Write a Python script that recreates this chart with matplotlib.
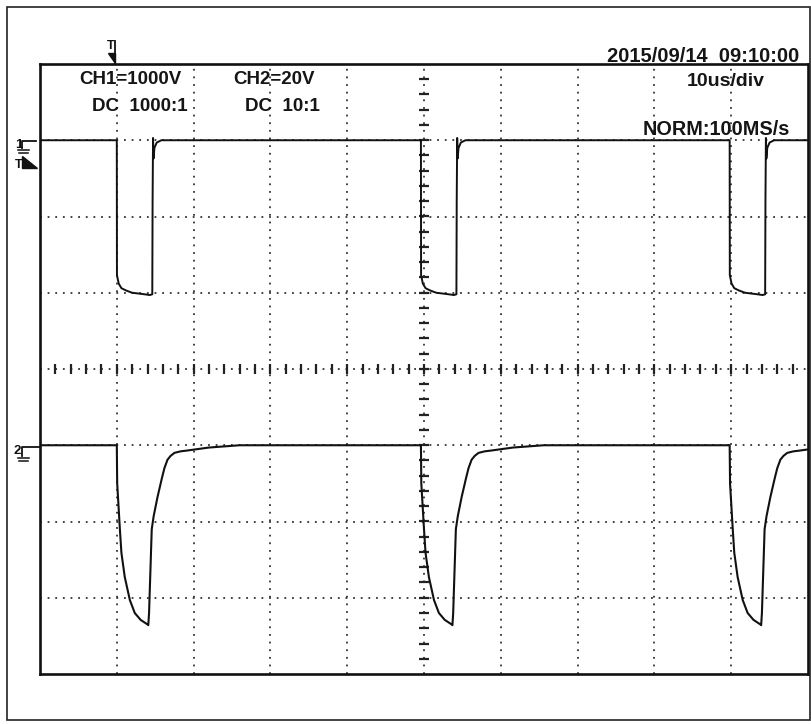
import numpy as np
import matplotlib
matplotlib.use('Agg')
import matplotlib.pyplot as plt
from matplotlib.patches import Rectangle, Polygon

W, H = 811, 724

# screen: 10 us/div over 10 divisions, vertical in divisions (centre = 0)
pulse_starts = [10.0, 49.6, 89.8]   # us, falling edge of CH1

ch1_level = 3.0
ch1_dt = [0.0, 0.02, 0.25, 0.6, 1.2, 2.0, 2.8, 3.6, 4.3, 4.62, 4.66, 4.72, 4.78, 4.9, 5.2, 5.8]
ch1_div = [3.0, 1.23, 1.12, 1.06, 1.03, 1.0, 0.99, 0.98, 0.97, 0.98, 2.2, 3.03, 2.76, 2.9, 2.97, 3.0]

ch2_level = -1.0
ch2_dt = [0.0, 0.05, 0.4, 0.6, 1.04, 1.7, 2.34, 3.1, 4.0, 4.1, 4.2, 4.55, 4.8, 5.3, 5.6, 5.9, 6.2,
          6.6, 7.0, 7.5, 8.3, 9.1, 12.0, 16.0]
ch2_div = [-1.0, -1.5, -2.1, -2.41, -2.73, -3.03, -3.2, -3.29, -3.35, -3.36, -3.2, -2.1, -1.93, -1.68,
           -1.55, -1.42, -1.3, -1.19, -1.14, -1.1, -1.08, -1.07, -1.03, -1.0]

header = ['CH1=1000V', 'DC  1000:1', 'CH2=20V', 'DC  10:1']
timestamp = '2015/09/14  09:10:00'
timebase = '10us/div'
acq_mode = 'NORM:100MS/s'


def build(dt, v, level):
    t, y = [0.0], [level]
    for t0 in pulse_starts:
        t += [t0 + d for d in dt]
        y += v
    if t[-1] < 100:
        t.append(100.0)
        y.append(level)
    return t, y


plt.rcParams['font.family'] = ['Liberation Sans', 'DejaVu Sans']

fig = plt.figure(figsize=(W / 100, H / 100), dpi=100)
fig.patch.set_facecolor('white')

ax = fig.add_axes([40 / W, 1 - 674 / H, 768 / W, 610 / H])
ax.set_xlim(0, 100)
ax.set_ylim(-4, 4)
ax.set_xticks([])
ax.set_yticks([])
for s in ax.spines.values():
    s.set_linewidth(1.9)
    s.set_color('#111111')

grid_kw = dict(color='#333333', lw=1.3, ls=(0, (1, 3.23)), zorder=1)
for gx in range(10, 100, 10):
    ax.axvline(gx, **grid_kw)
for gy in range(-3, 4):
    ax.axhline(gy, **grid_kw)

# centre cross with minor ticks every 0.2 div
ax.plot(np.arange(2, 100, 2), np.zeros(49), ls='', marker='|', ms=7, mew=1.6, color='#222222', zorder=2)
ax.plot(np.full(39, 50.0), np.arange(-3.8, 3.9, 0.2), ls='', marker='_', ms=7, mew=1.6, color='#222222', zorder=2)

t1, y1 = build(ch1_dt, ch1_div, ch1_level)
t2, y2 = build(ch2_dt, ch2_div, ch2_level)
ax.plot(t1, y1, color='#111111', lw=1.4, zorder=3)
ax.plot(t2, y2, color='#111111', lw=1.5, zorder=3)

# overlay in pixel coordinates for the screen annotations
ov = fig.add_axes([0, 0, 1, 1])
ov.set_xlim(0, W)
ov.set_ylim(H, 0)
ov.axis('off')
ov.patch.set_visible(False)

ov.add_patch(Rectangle((7, 7), 803, 713, fill=False, lw=1.2, ec='#222222'))

txt = dict(fontweight='bold', color='#151515', va='baseline', ha='left')
ov.text(79, 84, header[0], fontsize=13.5, **txt)
ov.text(92, 111, header[1], fontsize=13.5, **txt)
ov.text(233, 84, header[2], fontsize=13.5, **txt)
ov.text(245, 111, header[3], fontsize=13.5, **txt)
ov.text(607, 62, timestamp, fontsize=14.5, **txt)
ov.text(687, 86, timebase, fontsize=14, **txt)
ov.text(643, 135, acq_mode, fontsize=14.3, **txt)

mk = dict(fontweight='bold', color='#111111', va='baseline')
# trigger marker above the screen
ov.text(107, 49, 'T', fontsize=9, **mk)
ov.plot([115, 115], [41, 63], color='#111111', lw=1.3)
ov.add_patch(Polygon([(108, 53), (115, 53), (115, 63)], closed=True, color='#111111'))

# channel markers on the left
ov.text(15, 148, '1', fontsize=9.5, **mk)
ov.plot([22, 22, 36], [148, 141, 141], color='#111111', lw=1.3)
ov.plot([18, 29], [150, 150], color='#111111', lw=1.1)
ov.plot([19, 28], [152.5, 152.5], color='#111111', lw=1.1)
ov.text(15, 168, 'T', fontsize=9, **mk)
ov.add_patch(Polygon([(22, 156), (22, 168), (37, 168)], closed=True, color='#111111'))

ov.text(14, 454, '2', fontsize=9.5, **mk)
ov.plot([22, 22, 40], [456, 447, 447], color='#111111', lw=1.3)
ov.plot([18, 29], [458, 458], color='#111111', lw=1.1)
ov.plot([19, 28], [460.5, 460.5], color='#111111', lw=1.1)

fig.savefig('out.png', dpi=100, facecolor='white')
